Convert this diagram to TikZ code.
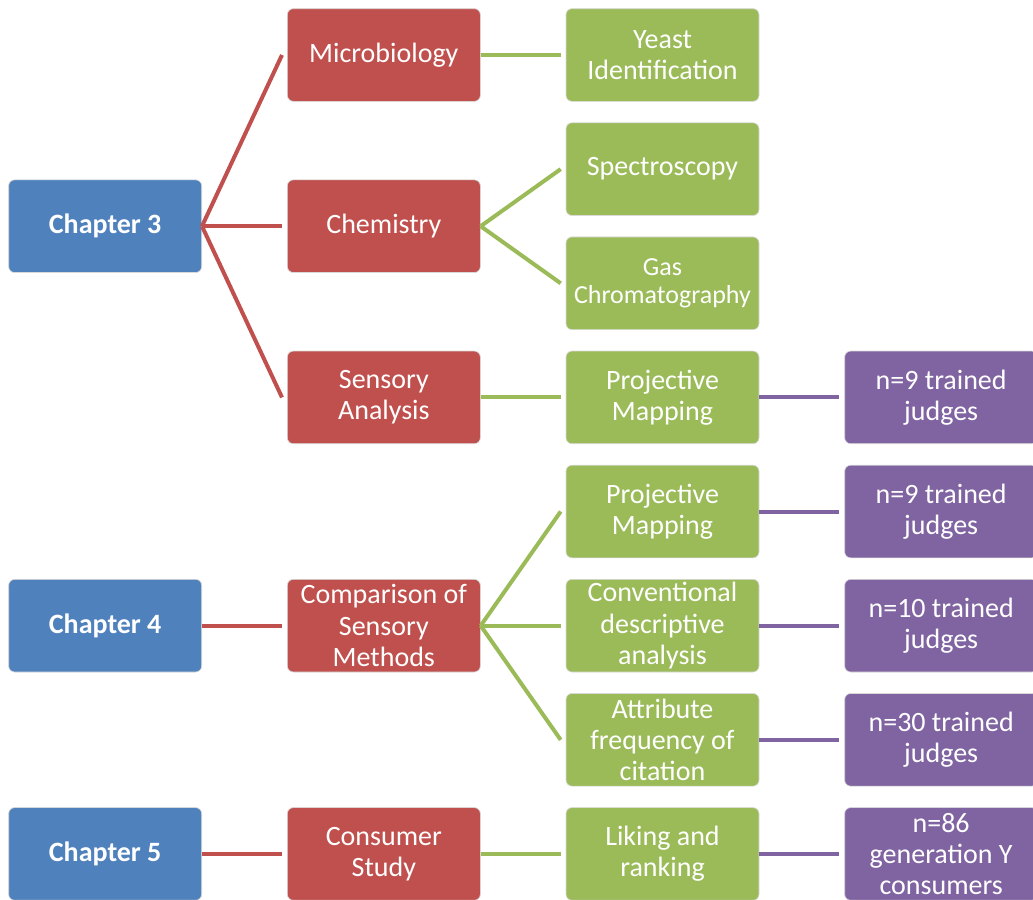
\documentclass[tikz,border=0pt]{standalone}
\usepackage{fontspec}
\setmainfont{Carlito}
\usepackage{xcolor}
\usetikzlibrary{positioning}

\definecolor{chapblue}{HTML}{4F81BD}
\definecolor{topicred}{HTML}{C0504D}
\definecolor{methodgreen}{HTML}{9BBB59}
\definecolor{judgepurple}{HTML}{8064A2}

\begin{document}
\begin{tikzpicture}[node distance=15.6pt and 63.75pt,
    box/.style={rectangle, rounded corners=4.5pt, minimum width=144.75pt, minimum height=69.5pt,
        inner sep=1pt, align=center, text=white, draw=white!85!black, line width=0.5pt,
        font=\fontsize{21pt}{23.5pt}\selectfont},
    chapbox/.style={box, fill=chapblue, font=\fontsize{21pt}{23.5pt}\selectfont\bfseries},
    redbox/.style={box, fill=topicred},
    greenbox/.style={box, fill=methodgreen},
    purplebox/.style={box, fill=judgepurple},
    redline/.style={draw=topicred, line width=3pt},
    greenline/.style={draw=methodgreen, line width=3pt},
    purpleline/.style={draw=judgepurple, line width=3pt}]

    % Frame
    \useasboundingbox (0,0) rectangle (774.75pt,-675pt);
    \clip (0,0) rectangle (774.75pt,-675pt);

    % Methods column
    \node[greenbox] (yeast) at (496.875pt,-41.25pt) {Yeast\\Identification};
    \node[greenbox, below=of yeast] (spectro) {Spectroscopy};
    \node[greenbox, below=of spectro, font=\fontsize{19.5pt}{21pt}\selectfont] (gaschrom) {Gas\\Chromatography};
    \node[greenbox, below=of gaschrom] (projmap) {Projective\\Mapping};
    \node[greenbox, below=of projmap] (projmapb) {Projective\\Mapping};
    \node[greenbox, below=of projmapb] (convdesc) {Conventional\\descriptive\\analysis};
    \node[greenbox, below=of convdesc] (attrfreq) {Attribute\\frequency of\\citation};
    \node[greenbox, below=of attrfreq] (liking) {Liking and\\ranking};

    % Topics column
    \node[redbox, left=of yeast] (micro) {Microbiology};
    \node[redbox, left=of spectro, yshift=-42.8pt] (chem) {Chemistry};
    \node[redbox, left=of projmap] (sensory) {Sensory\\Analysis};
    \node[redbox, left=of convdesc] (compare) {Comparison of\\Sensory\\Methods};
    \node[redbox, left=of liking] (consumer) {Consumer\\Study};

    % Chapters
    \node[chapbox, left=of chem] (chapthree) {Chapter 3};
    \node[chapbox, left=of compare] (chapfour) {Chapter 4};
    \node[chapbox, left=of consumer] (chapfive) {Chapter 5};

    % Panels
    \node[purplebox, right=of projmap] (panela) {n=9 trained\\judges};
    \node[purplebox, right=of projmapb] (panelb) {n=9 trained\\judges};
    \node[purplebox, right=of convdesc] (panelc) {n=10 trained\\judges};
    \node[purplebox, right=of attrfreq] (paneld) {n=30 trained\\judges};
    \node[purplebox, right=of liking] (panele) {n=86\\generation Y\\consumers};

    % Connections
    \draw[redline] (chapthree.east) -- ([xshift=-3.75pt]micro.west);
    \draw[redline] (chapthree.east) -- ([xshift=-3.75pt]chem.west);
    \draw[redline] (chapthree.east) -- ([xshift=-3.75pt]sensory.west);
    \draw[redline] (chapfour.east) -- ([xshift=-3.75pt]compare.west);
    \draw[redline] (chapfive.east) -- ([xshift=-3.75pt]consumer.west);

    \draw[greenline] (micro.east) -- ([xshift=-3.75pt]yeast.west);
    \draw[greenline] (chem.east) -- ([xshift=-3.75pt]spectro.west);
    \draw[greenline] (chem.east) -- ([xshift=-3.75pt]gaschrom.west);
    \draw[greenline] (sensory.east) -- ([xshift=-3.75pt]projmap.west);
    \draw[greenline] (compare.east) -- ([xshift=-3.75pt]projmapb.west);
    \draw[greenline] (compare.east) -- ([xshift=-3.75pt]convdesc.west);
    \draw[greenline] (compare.east) -- ([xshift=-3.75pt]attrfreq.west);
    \draw[greenline] (consumer.east) -- ([xshift=-3.75pt]liking.west);

    \draw[purpleline] (projmap.east) -- ([xshift=-3.75pt]panela.west);
    \draw[purpleline] (projmapb.east) -- ([xshift=-3.75pt]panelb.west);
    \draw[purpleline] (convdesc.east) -- ([xshift=-3.75pt]panelc.west);
    \draw[purpleline] (attrfreq.east) -- ([xshift=-3.75pt]paneld.west);
    \draw[purpleline] (liking.east) -- ([xshift=-3.75pt]panele.west);

\end{tikzpicture}
\end{document}
